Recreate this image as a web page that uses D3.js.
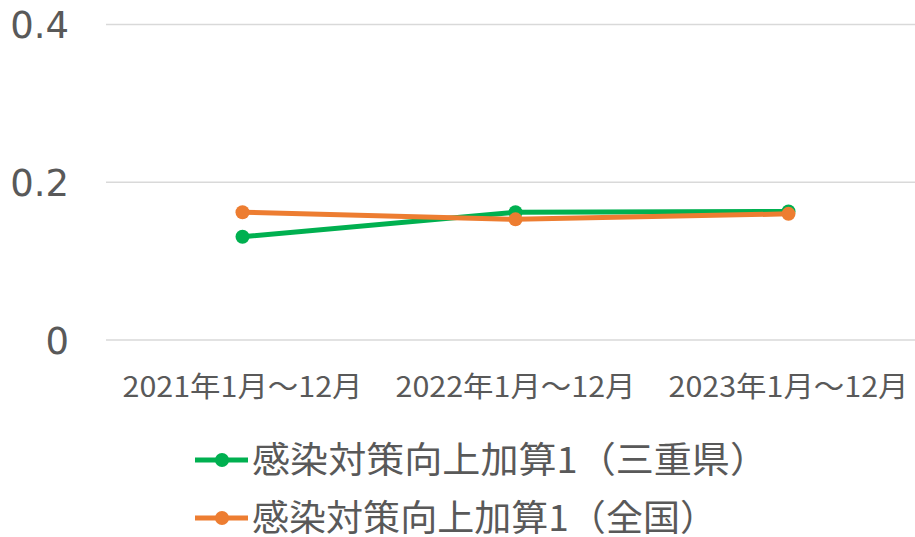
<!DOCTYPE html>
<html><head><meta charset="utf-8">
<script src="https://cdn.jsdelivr.net/npm/d3@7"></script>
<style>html,body{margin:0;padding:0;background:#fff;}svg{display:block;}</style>
</head><body>
<svg id="chart" width="915" height="537"></svg>
<script>
const categories = ["2021年1月～12月", "2022年1月～12月", "2023年1月～12月"];
const seriesNames = ["感染対策向上加算1（三重県）", "感染対策向上加算1（全国）"];
const mieValues = [0.131, 0.162, 0.163];
const nationalValues = [0.162, 0.153, 0.160];
const yTicks = [0, 0.2, 0.4];
const yTickLabels = ["0", "0.2", "0.4"];
const colors = ["#00b050", "#ed7d31"];

const svg = d3.select("#chart");
const x = d3.scaleBand().domain(categories).range([106, 925]);
const y = d3.scaleLinear().domain([0, 0.4]).range([340, 24.6]);
const cx = d => x(d) + x.bandwidth() / 2;

// gridlines
svg.append("g").selectAll("line").data(yTicks).join("line")
  .attr("x1", 106).attr("x2", 915)
  .attr("y1", d => y(d)).attr("y2", d => y(d))
  .attr("stroke", "#d9d9d9").attr("stroke-width", 1.5);

// y axis labels via axis
const yAxis = d3.axisLeft(y).tickValues(yTicks).tickFormat((d, i) => yTickLabels[i]).tickSize(0).tickPadding(0);
const yg = svg.append("g").attr("transform", "translate(69,0)").call(yAxis);
yg.select(".domain").remove();
yg.selectAll("text").attr("fill", "#595959").attr("font-family", "'DejaVu Sans', sans-serif")
  .attr("font-size", 37).attr("dy", "0.36em");

// x axis labels
const xAxis = d3.axisBottom(x).tickSize(0).tickPadding(0);
const xg = svg.append("g").attr("transform", "translate(0,387)").call(xAxis);
xg.select(".domain").remove();
xg.selectAll("text").attr("fill", "#595959").attr("font-family", "'Noto Sans CJK JP', sans-serif")
  .attr("font-size", 28).attr("dy", "0.36em").attr("y", 0)
  .attr("textLength", 240).attr("lengthAdjust", "spacingAndGlyphs");

const series = [mieValues, nationalValues];
const line = d3.line().x((d, i) => cx(categories[i])).y(d => y(d));
series.forEach((vals, s) => {
  const g = svg.append("g");
  g.append("path").attr("d", line(vals)).attr("fill", "none")
    .attr("stroke", colors[s]).attr("stroke-width", 5).attr("stroke-linejoin", "round");
  g.selectAll("circle").data(vals).join("circle")
    .attr("cx", (d, i) => cx(categories[i])).attr("cy", d => y(d)).attr("r", 7)
    .attr("fill", colors[s]);
});

// legend
const legendY = [460, 518];
const legendWidths = [516, 465];
seriesNames.forEach((name, s) => {
  const g = svg.append("g").attr("transform", `translate(0,${legendY[s]})`);
  g.append("line").attr("x1", 195).attr("x2", 248).attr("y1", 0).attr("y2", 0)
    .attr("stroke", colors[s]).attr("stroke-width", 5);
  g.append("circle").attr("cx", 222).attr("cy", 0).attr("r", 7).attr("fill", colors[s]);
  g.append("text").attr("x", 252).attr("y", 0).attr("dy", "0.36em")
    .attr("fill", "#595959").attr("font-family", "'Noto Sans CJK JP', sans-serif")
    .attr("font-size", 36).attr("textLength", legendWidths[s]).attr("lengthAdjust", "spacingAndGlyphs")
    .text(name);
});
</script>
</body></html>
